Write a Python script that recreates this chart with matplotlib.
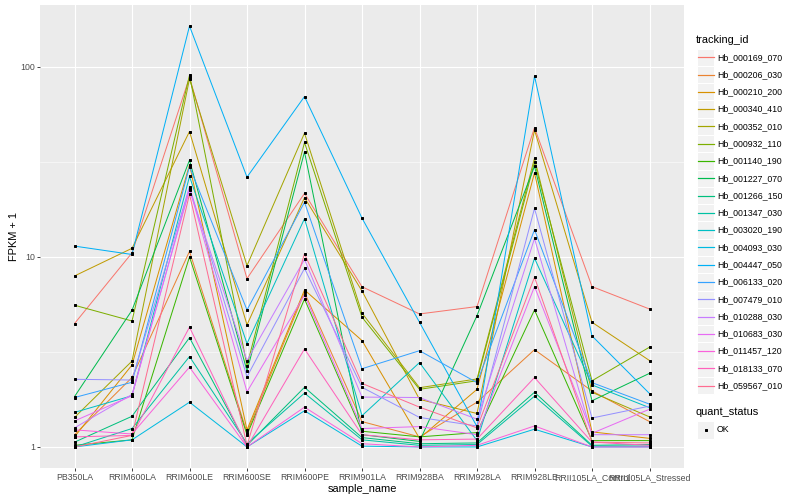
import numpy as np
import matplotlib
matplotlib.use("Agg")
import matplotlib.pyplot as plt
from matplotlib.patches import Rectangle
from matplotlib.lines import Line2D
from matplotlib.ticker import FixedLocator, NullFormatter

plt.rcParams['font.family'] = ['Liberation Sans', 'DejaVu Sans']

samples = ["PB350LA", "RRIM600LA", "RRIM600LE", "RRIM600SE", "RRIM600PE", "RRIM901LA",
           "RRIM928BA", "RRIM928LA", "RRIM928LE", "RRII105LA_Control", "RRII105LA_Stressed"]

tracking_ids = ["Hb_000169_070", "Hb_000206_030", "Hb_000210_200", "Hb_000340_410",
                "Hb_000352_010", "Hb_000932_110", "Hb_001140_190", "Hb_001227_070",
                "Hb_001266_150", "Hb_001347_030", "Hb_003020_190", "Hb_004093_030",
                "Hb_004447_050", "Hb_006133_020", "Hb_007479_010", "Hb_010288_030",
                "Hb_010683_030", "Hb_011457_120", "Hb_018133_070", "Hb_059567_010"]

colors = ["#F8766D", "#EA8331", "#D89000", "#C09B00", "#A3A500", "#7CAE00", "#39B600",
          "#00BB4E", "#00BF7D", "#00C1A3", "#00BFC4", "#00BAE0", "#00B0F6", "#35A2FF",
          "#9590FF", "#C77CFF", "#E76BF3", "#FA62DB", "#FF62BC", "#FF6C91"]

# FPKM + 1 per sample
hb_000169_070 = [4.46, 10.5, 88.3, 7.69, 21.6, 6.97, 5.01, 5.48, 47.9, 6.98, 5.32]
hb_000206_030 = [1.16, 2.32, 10.7, 1.19, 6.5, 1.36, 1.13, 1.72, 3.25, 1.97, 1.36]
hb_000210_200 = [1.13, 2.7, 30.5, 1.23, 6.7, 3.63, 1.11, 2.01, 27.7, 1.2, 1.11]
hb_000340_410 = [7.94, 11.1, 45.7, 4.39, 20.5, 6.62, 1.78, 1.5, 46.5, 4.53, 2.85]
hb_000352_010 = [1.43, 2.83, 86.5, 9.0, 44.8, 5.06, 2.05, 2.28, 33.1, 1.94, 1.44]
hb_000932_110 = [5.57, 4.6, 90.4, 2.68, 40.0, 4.82, 2.01, 2.23, 31.5, 2.23, 3.35]
hb_001140_190 = [1.02, 1.09, 10.0, 1.16, 6.0, 1.21, 1.13, 1.19, 5.26, 1.08, 1.08]
hb_001227_070 = [1.84, 5.24, 32.3, 2.51, 35.7, 1.16, 1.07, 4.91, 30.0, 1.75, 2.44]
hb_001266_150 = [1.06, 1.45, 3.76, 1.02, 2.06, 1.12, 1.04, 1.05, 1.94, 1.02, 1.03]
hb_001347_030 = [1.0, 1.25, 2.99, 1.04, 1.92, 1.09, 1.02, 1.03, 1.85, 1.01, 1.01]
hb_003020_190 = [1.52, 1.86, 26.5, 3.5, 15.9, 1.46, 2.78, 1.08, 9.84, 2.12, 1.61]
hb_004093_030 = [1.0, 1.09, 1.72, 1.0, 1.55, 1.01, 1.0, 1.0, 1.24, 1.0, 1.0]
hb_004447_050 = [11.4, 10.3, 164.0, 26.3, 69.8, 16.0, 4.53, 1.28, 89.4, 3.84, 1.91]
hb_006133_020 = [1.82, 2.19, 29.9, 5.26, 19.4, 2.58, 3.21, 2.18, 13.9, 2.18, 1.68]
hb_007479_010 = [2.27, 2.25, 23.4, 2.34, 8.7, 2.06, 1.43, 1.29, 18.0, 1.42, 1.64]
hb_010288_030 = [1.26, 1.89, 22.5, 2.85, 9.7, 1.83, 1.82, 1.4, 12.5, 1.16, 1.16]
hb_010683_030 = [1.37, 1.86, 23.0, 1.95, 6.3, 1.25, 1.28, 1.16, 6.98, 1.18, 1.58]
hb_011457_120 = [1.23, 1.17, 2.63, 1.0, 1.62, 1.04, 1.0, 1.02, 1.29, 1.0, 1.0]
hb_018133_070 = [1.13, 1.15, 4.27, 1.0, 3.28, 1.16, 1.09, 1.1, 2.32, 1.06, 1.02]
hb_059567_010 = [1.0, 1.15, 21.4, 1.02, 10.4, 2.16, 1.62, 1.26, 7.82, 1.06, 1.05]

series = [hb_000169_070, hb_000206_030, hb_000210_200, hb_000340_410, hb_000352_010,
          hb_000932_110, hb_001140_190, hb_001227_070, hb_001266_150, hb_001347_030,
          hb_003020_190, hb_004093_030, hb_004447_050, hb_006133_020, hb_007479_010,
          hb_010288_030, hb_010683_030, hb_011457_120, hb_018133_070, hb_059567_010]

W, H = 800, 500
fig = plt.figure(figsize=(W / 72, H / 72), dpi=72)
fig.patch.set_facecolor("white")

def fx(px):
    return px / W

def fy(py):
    return 1 - py / H

ax = fig.add_axes([fx(40), fy(468), (684 - 40) / W, (468 - 5) / H])
ax.set_facecolor("#EBEBEB")

x = np.arange(len(samples))
for vals, c in zip(series, colors):
    ax.plot(x, vals, color=c, lw=1.0, zorder=3, solid_capstyle="butt")
for vals in series:
    ax.plot(x, vals, linestyle="none", marker="s", markersize=2.6,
            color="black", zorder=4)

ax.set_yscale("log")
allv = np.concatenate([np.array(s) for s in series])
lo, hi = np.log10(allv.min()), np.log10(allv.max())
pad = 0.05 * (hi - lo)
ax.set_ylim(10 ** (lo - pad), 10 ** (hi + pad))
ax.set_xlim(-0.6, len(samples) - 1 + 0.6)

ax.yaxis.set_major_locator(FixedLocator([1, 10, 100]))
ax.set_yticklabels(["1", "10", "100"])
ax.yaxis.set_minor_locator(FixedLocator([10 ** 0.5, 10 ** 1.5]))
ax.yaxis.set_minor_formatter(NullFormatter())
ax.set_xticks(x)
ax.set_xticklabels(samples)

ax.grid(True, which="major", color="white", lw=1.1, zorder=0)
ax.grid(True, which="minor", axis="y", color="white", lw=0.55, zorder=0)
ax.set_axisbelow(True)
for s in ax.spines.values():
    s.set_visible(False)

ax.tick_params(which="major", length=2.75, width=0.9, color="#333333",
               labelsize=8.8, labelcolor="#4D4D4D", pad=2.2)
ax.tick_params(which="minor", length=0)

ax.set_xlabel("sample_name", fontsize=11, labelpad=2)
ax.set_ylabel("FPKM + 1", fontsize=11, labelpad=1)

# legend: tracking_id
fig.text(fx(696), fy(40), "tracking_id", fontsize=11, ha="left", va="center")
key = 17.28
y0 = 57.3
for i, (tid, c) in enumerate(zip(tracking_ids, colors)):
    yc = y0 + i * key
    fig.add_artist(Rectangle((fx(697), fy(yc + key / 2)), key / W, key / H,
                             transform=fig.transFigure, facecolor="#F2F2F2",
                             edgecolor="white", lw=1.0, zorder=1))
    fig.add_artist(Line2D([fx(697.5), fx(697 + key - 0.5)], [fy(yc), fy(yc)],
                          transform=fig.transFigure, color=c, lw=1.2, zorder=5))
    fig.text(fx(717), fy(yc), tid, fontsize=8.8, ha="left", va="center")

# legend: quant_status
fig.text(fx(696), fy(412), "quant_status", fontsize=11, ha="left", va="center")
yc = 430
fig.add_artist(Rectangle((fx(697), fy(yc + key / 2)), key / W, key / H,
                         transform=fig.transFigure, facecolor="#F2F2F2",
                         edgecolor="white", lw=1.0, zorder=1))
fig.add_artist(Line2D([fx(697 + key / 2)], [fy(yc)], transform=fig.transFigure,
                      marker="s", markersize=2.6, color="black", linestyle="none",
                      zorder=5))
fig.text(fx(717), fy(yc), "OK", fontsize=8.8, ha="left", va="center")

fig.savefig("out.png", dpi=72, facecolor="white")
